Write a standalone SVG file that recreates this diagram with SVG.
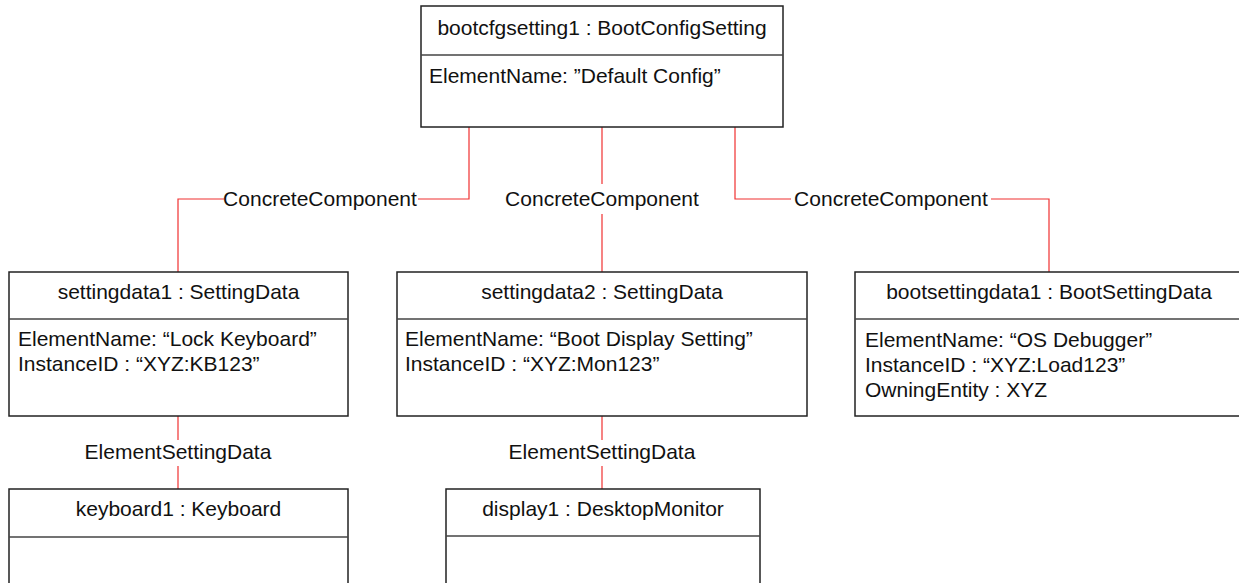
<svg xmlns="http://www.w3.org/2000/svg" width="1239" height="583" viewBox="0 0 1239 583">
<style>
.box{fill:#fff;stroke:#222;stroke-width:1.5}
.div{stroke:#444;stroke-width:1.5}
.t{font-family:"Liberation Sans",Arial,sans-serif;font-size:21px;fill:#111}
.c{text-anchor:middle}
.conn{fill:none;stroke:#f03030;stroke-width:1.2}
</style>
<rect width="1239" height="583" fill="#fff"/>
<g id="connectors">
<polyline class="conn" points="469,127 469,199 418,199"/>
<polyline class="conn" points="224,199 178,199 178,272"/>
<line class="conn" x1="602" y1="127" x2="602" y2="184"/>
<line class="conn" x1="602" y1="214" x2="602" y2="272"/>
<polyline class="conn" points="735,127 735,199 791,199"/>
<polyline class="conn" points="991,199 1049,199 1049,272"/>
<line class="conn" x1="178" y1="416" x2="178" y2="440"/>
<line class="conn" x1="178" y1="466" x2="178" y2="489"/>
<line class="conn" x1="602" y1="416" x2="602" y2="440"/>
<line class="conn" x1="602" y1="466" x2="602" y2="489"/>
<text class="t c" x="320" y="206">ConcreteComponent</text>
<text class="t c" x="602" y="206">ConcreteComponent</text>
<text class="t c" x="891" y="206">ConcreteComponent</text>
<text class="t c" x="178" y="459">ElementSettingData</text>
<text class="t c" x="602" y="459">ElementSettingData</text>
</g>
<g id="bootcfgsetting1">
<rect class="box" x="421" y="6" width="362" height="121"/>
<line class="div" x1="421" y1="55" x2="783" y2="55"/>
<text class="t c" x="602" y="35">bootcfgsetting1 : BootConfigSetting</text>
<text class="t" x="429" y="83">ElementName: ”Default Config”</text>
</g>
<g id="settingdata1">
<rect class="box" x="9" y="272" width="339" height="144"/>
<line class="div" x1="9" y1="319" x2="348" y2="319"/>
<text class="t c" x="178.5" y="299">settingdata1 : SettingData</text>
<text class="t" x="18" y="346">ElementName: “Lock Keyboard”</text>
<text class="t" x="18" y="371">InstanceID : “XYZ:KB123”</text>
</g>
<g id="settingdata2">
<rect class="box" x="397" y="272" width="410" height="144"/>
<line class="div" x1="397" y1="319" x2="807" y2="319"/>
<text class="t c" x="602" y="299">settingdata2 : SettingData</text>
<text class="t" x="405" y="346">ElementName: “Boot Display Setting”</text>
<text class="t" x="405" y="371">InstanceID : “XYZ:Mon123”</text>
</g>
<g id="bootsettingdata1">
<rect class="box" x="855" y="272" width="390" height="144"/>
<line class="div" x1="855" y1="319" x2="1245" y2="319"/>
<text class="t c" x="1049" y="299">bootsettingdata1 : BootSettingData</text>
<text class="t" x="865" y="347">ElementName: “OS Debugger”</text>
<text class="t" x="865" y="372">InstanceID : “XYZ:Load123”</text>
<text class="t" x="865" y="397">OwningEntity : XYZ</text>
</g>
<g id="keyboard1">
<rect class="box" x="9" y="489" width="339" height="110"/>
<line class="div" x1="9" y1="537" x2="348" y2="537"/>
<text class="t c" x="178.5" y="516">keyboard1 : Keyboard</text>
</g>
<g id="display1">
<rect class="box" x="446" y="489" width="314" height="110"/>
<line class="div" x1="446" y1="536" x2="760" y2="536"/>
<text class="t c" x="603" y="516">display1 : DesktopMonitor</text>
</g>
</svg>
